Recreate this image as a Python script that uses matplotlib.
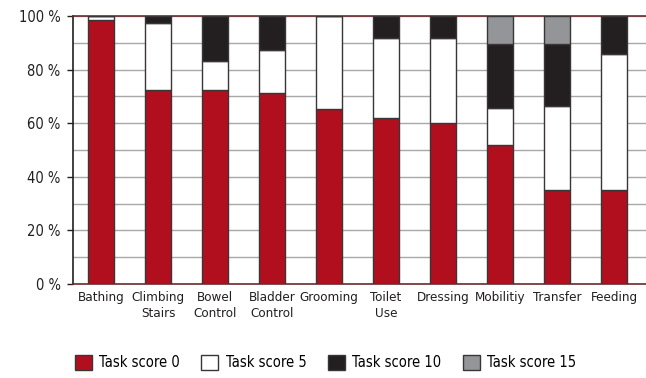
import matplotlib.pyplot as plt
from matplotlib.patches import Patch
from matplotlib.ticker import MultipleLocator

plt.rcParams['font.family'] = ['DejaVu Sans']
plt.rcParams['font.stretch'] = 'condensed'

# values (% of patients per task score)
tasks = ["Bathing", "Climbing\nStairs", "Bowel\nControl", "Bladder\nControl", "Grooming",
         "Toilet\nUse", "Dressing", "Mobilitiy", "Transfer", "Feeding"]
score0 = [98.6, 72.5, 72.5, 71.2, 65.2, 61.8, 60.1, 52.0, 35.1, 35.1]
score5 = [1.4, 24.9, 10.7, 16.0, 34.8, 30.0, 31.7, 13.8, 31.2, 50.9]
score10 = [0.0, 2.6, 16.8, 12.8, 0.0, 8.2, 8.2, 23.9, 23.4, 14.0]
score15 = [0.0, 0.0, 0.0, 0.0, 0.0, 0.0, 0.0, 10.3, 10.3, 0.0]
series_labels = ["Task score 0", "Task score 5", "Task score 10", "Task score 15"]

colors = ["#b20f1e", "#ffffff", "#231f20", "#939598"]
edge = "#3a3536"

fig = plt.figure(figsize=(6.46, 3.78), dpi=100)
ax = fig.add_axes([72.5 / 646, 1 - 284 / 378, (646 - 72.5) / 646, 268 / 378])

x = list(range(len(tasks)))
bottom = [0.0] * len(tasks)
for vals, c in zip([score0, score5, score10, score15], colors):
    ax.bar(x, vals, width=0.445, bottom=bottom, color=c, edgecolor=edge, linewidth=1.0, zorder=3)
    bottom = [b + v for b, v in zip(bottom, vals)]

ax.set_xlim(-0.5, 9.56)
ax.set_ylim(0, 100)
ax.yaxis.set_minor_locator(MultipleLocator(10))
ax.set_yticks(range(0, 101, 20))
ax.set_yticklabels([f"{v} %" for v in range(0, 101, 20)], fontsize=10.5, color="#231f20")
ax.grid(axis="y", which="both", color="#a8a8a8", linewidth=1.0, zorder=1)
ax.set_axisbelow(True)
ax.tick_params(axis="y", which="major", length=4.5, width=1, color="#231f20", pad=4)
ax.tick_params(axis="y", which="minor", length=0)

ax.set_xticks(x)
ax.set_xticklabels(tasks, fontsize=9.6, color="#231f20", linespacing=1.3)
ax.tick_params(axis="x", length=0, pad=5)

ax.spines["right"].set_visible(False)
ax.spines["left"].set_color("#231f20")
ax.spines["left"].set_linewidth(1.2)
for s in ["top", "bottom"]:
    ax.spines[s].set_color("#6b2b2e")
    ax.spines[s].set_linewidth(1.2)

handles = [Patch(facecolor=c, edgecolor=edge, linewidth=1.0) for c in colors]
fig.legend(handles, series_labels, loc="center", bbox_to_anchor=(0.504, 0.04), ncol=4,
           frameon=False, fontsize=10.5, handlelength=1.15, handleheight=1.15,
           handletextpad=0.5, columnspacing=1.5)

fig.savefig("out.png", dpi=100)
